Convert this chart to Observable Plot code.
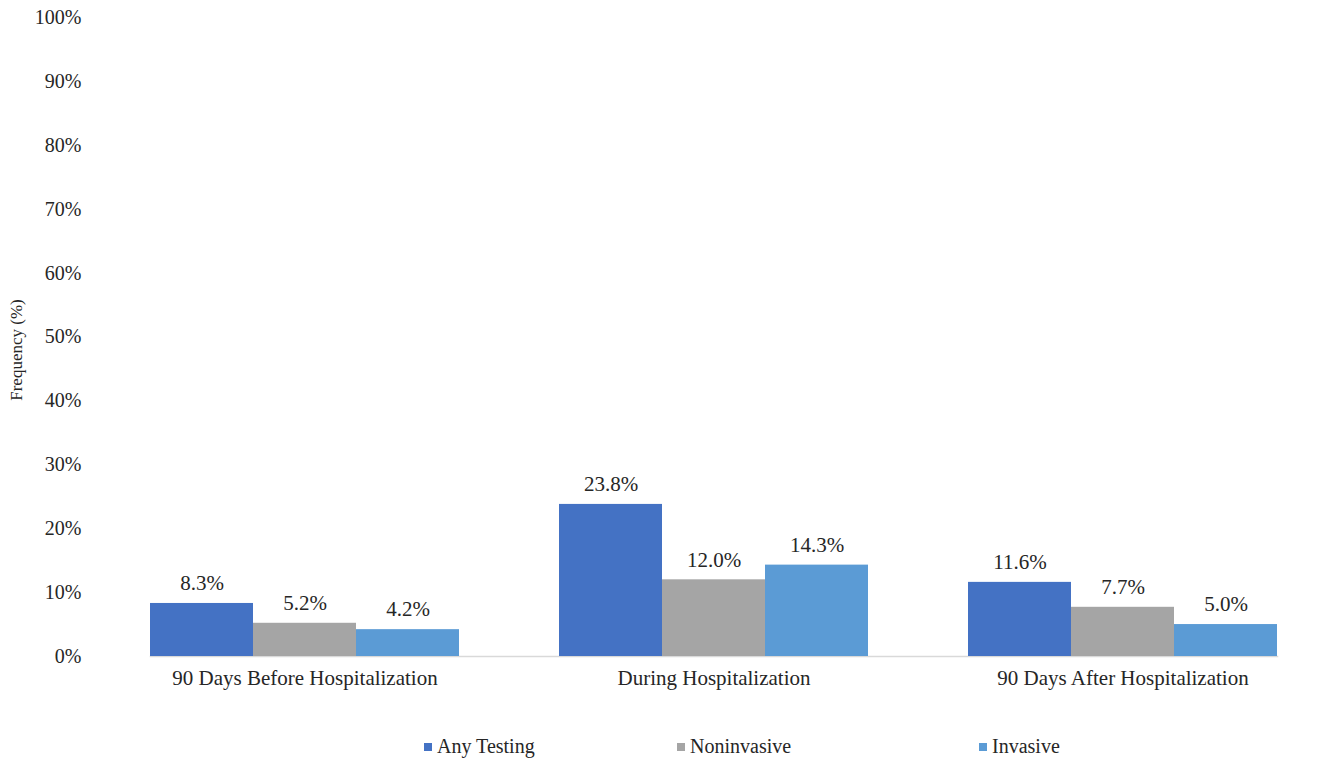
<!DOCTYPE html>
<html>
<head>
<meta charset="utf-8">
<script src="https://cdn.jsdelivr.net/npm/d3@7"></script>
<script src="https://cdn.jsdelivr.net/npm/@observablehq/plot@0.6"></script>
<style>
  html, body { margin: 0; padding: 0; background: #fff; }
  #chart { position: relative; width: 1339px; height: 766px; font-family: "Liberation Serif", "Times New Roman", serif; }
  #legend { position: absolute; top: 735px; left: 0; width: 1339px; height: 24px; font-size: 20px; color: #262626; }
  .item { position: absolute; display: flex; align-items: center; white-space: nowrap; }
  .sw { width: 8px; height: 8px; margin-right: 5px; }
</style>
</head>
<body>
<div id="chart"></div>
<script>
const categories = ["90 Days Before Hospitalization", "During Hospitalization", "90 Days After Hospitalization"];
const seriesNames = ["Any Testing", "Noninvasive", "Invasive"];
const anyTesting = [8.3, 23.8, 11.6];
const noninvasive = [5.2, 12.0, 7.7];
const invasive = [4.2, 14.3, 5.0];
const colors = ["#4472C4", "#A5A5A5", "#5B9BD5"];
const yTicks = [0, 10, 20, 30, 40, 50, 60, 70, 80, 90, 100];

const seriesValues = [anyTesting, noninvasive, invasive];
const data = [];
categories.forEach((c, i) => {
  seriesNames.forEach((s, j) => {
    data.push({category: c, series: s, value: seriesValues[j][i]});
  });
});

const font = "Liberation Serif, Times New Roman, serif";
const plot = Plot.plot({
  width: 1339,
  height: 700,
  marginLeft: 97,
  marginRight: 9,
  marginTop: 17,
  marginBottom: 44,
  style: {fontFamily: font, fontSize: "20px", color: "#262626", background: "#fff"},
  fx: {domain: categories, paddingInner: 0.245, paddingOuter: 0.127, label: null},
  x: {domain: seriesNames, padding: 0, axis: null},
  y: {domain: [0, 100], ticks: yTicks, label: null},
  color: {domain: seriesNames, range: colors},
  marks: [
    Plot.frame({anchor: "bottom", facet: "super", stroke: "#D9D9D9", strokeWidth: 1.5}),
    Plot.barY(data, {fx: "category", x: "series", y: "value", fill: "series"}),
    Plot.text(data, {fx: "category", x: "series", y: "value", text: d => d.value.toFixed(1) + "%", dy: -20, fill: "#262626", fontSize: 21}),
    Plot.axisY({ticks: yTicks, tickFormat: d => d + "%", tickSize: 0, tickPadding: 69, label: null, fontSize: 20, facetAnchor: "left"}),
    Plot.axisFx({anchor: "bottom", tickSize: 0, tickPadding: 14, label: null, fontSize: 21})
  ]
});
document.getElementById("chart").appendChild(plot);

// y-axis title
const svg = d3.select(plot);
svg.append("text")
  .attr("transform", "translate(18,350) rotate(-90)")
  .attr("text-anchor", "middle")
  .attr("dominant-baseline", "middle")
  .attr("font-size", 17)
  .attr("fill", "#262626")
  .attr("font-family", font)
  .text("Frequency (%)");

// legend
const legend = d3.select("#chart").append("div").attr("id", "legend");
const lefts = [424, 677, 979];
seriesNames.forEach((s, i) => {
  const it = legend.append("div").attr("class", "item").style("left", lefts[i] + "px");
  it.append("div").attr("class", "sw").style("background", colors[i]);
  it.append("span").text(s);
});
</script>
</body>
</html>
